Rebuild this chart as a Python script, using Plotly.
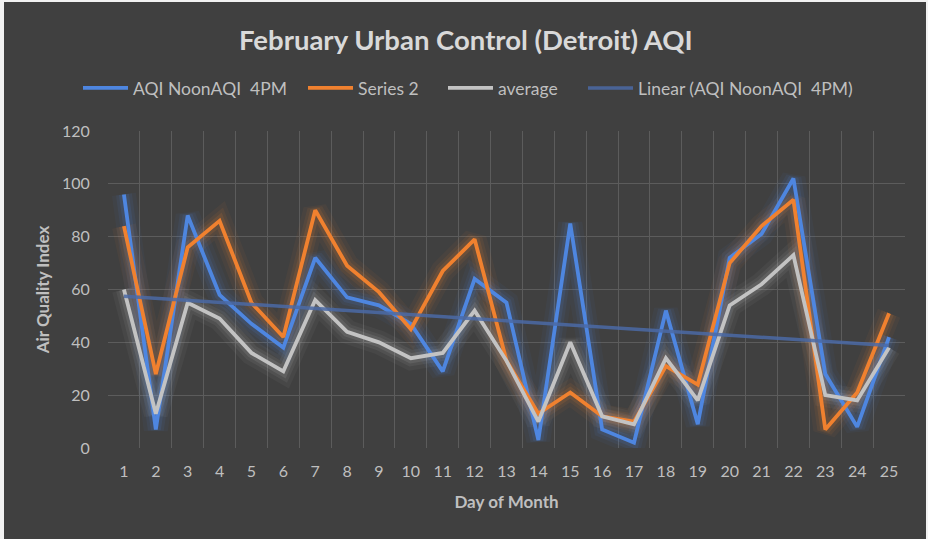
import numpy as np
import plotly.graph_objects as go

days = list(range(1, 26))
aqi_noon_4pm = [96, 7, 88, 58, 47, 38, 72, 57, 54, 47, 29, 64, 55, 3, 85, 7, 2, 52, 9, 72, 81, 102, 28, 8, 42]
series_2 = [84, 28, 76, 86, 55, 42, 90, 69, 59, 45, 67, 79, 33, 13, 21, 12, 10, 31, 24, 70, 84, 94, 7, 21, 51]
average = [60, 13, 55, 49, 36, 29, 56, 44, 40, 34, 36, 52, 33, 10, 40, 12, 9, 34, 18, 54, 62, 73, 20, 18, 38]
y_ticks = [0, 20, 40, 60, 80, 100, 120]

# Linear trendline of first series
coef = np.polyfit(days, aqi_noon_4pm, 1)
trend = list(np.polyval(coef, days))

BLUE = "#4e86e0"
ORANGE = "#f0812f"
GRAY = "#c3c3c3"
TREND = "#4b6aa6"
BG = "#404040"
FONT = "Lato"
TXT = "#bfbfbf"

fig = go.Figure()

# glow layers
for vals, col in [(average, GRAY), (series_2, ORANGE), (aqi_noon_4pm, BLUE)]:
    for w, op in [(24, 0.05), (16, 0.08), (10, 0.12)]:
        fig.add_trace(go.Scatter(x=days, y=vals, mode="lines", line=dict(color=col, width=w),
                                 opacity=op, showlegend=False, hoverinfo="skip"))

fig.add_trace(go.Scatter(x=days, y=aqi_noon_4pm, mode="lines", name="AQI NoonAQI\u00a0 4PM",
                         line=dict(color=BLUE, width=3.8), legend="legend"))
fig.add_trace(go.Scatter(x=days, y=series_2, mode="lines", name="Series 2",
                         line=dict(color=ORANGE, width=3.8), legend="legend2"))
fig.add_trace(go.Scatter(x=days, y=average, mode="lines", name="average",
                         line=dict(color=GRAY, width=3.8), legend="legend3"))
fig.add_trace(go.Scatter(x=days, y=trend, mode="lines", name="Linear (AQI NoonAQI\u00a0 4PM)",
                         line=dict(color=TREND, width=3.5), opacity=0.85, legend="legend4"))

# outer light frame
L, R, T, B = 108, 23, 131, 91
W, H = 928, 539
pw, ph = W - L - R, H - T - B
fig.add_shape(type="rect", xref="paper", yref="paper",
              x0=(4 - L) / pw, x1=(926 - L) / pw, y0=(B - 0) / -ph, y1=1 + (T - 2) / ph,
              fillcolor=BG, line=dict(width=0), layer="below")


def leg(xpx):
    return dict(orientation="h", xref="container", yref="container", x=(xpx - 5) / W, xanchor="left",
                y=1 - 88 / H, yanchor="middle", font=dict(size=17.5, color=TXT, family=FONT),
                bgcolor="rgba(0,0,0,0)", itemwidth=45, borderwidth=0)


fig.update_layout(
    width=W, height=H,
    margin=dict(l=L, r=R, t=T, b=B),
    paper_bgcolor="#f2f2f2",
    plot_bgcolor="rgba(0,0,0,0)",
    font=dict(family=FONT, color=TXT, size=16),
    title=dict(text="<b>February Urban Control (Detroit) AQI</b>", x=0.502, xanchor="center",
               y=1 - 40 / H, yanchor="middle", yref="container",
               font=dict(family=FONT, size=27.5, color="#d9d9d9")),
    legend=leg(83), legend2=leg(308), legend3=leg(448), legend4=leg(588),
    showlegend=True,
    xaxis=dict(range=[0.5, 25.5], tickvals=days, ticktext=[str(d) for d in days],
               showgrid=False, zeroline=False, showline=False,
               ticks="outside", ticklen=9, tickcolor="rgba(0,0,0,0)",
               tickfont=dict(size=16, color=TXT),
               minor=dict(tick0=0.5, dtick=1, showgrid=True, gridcolor="#5c5c5c", gridwidth=1, ticks=""),
               title=dict(text="<b>Day of Month</b>", font=dict(size=17, color=TXT), standoff=16)),
    yaxis=dict(range=[0, 120], tickvals=y_ticks, showgrid=True, gridcolor="#5c5c5c", gridwidth=1,
               zeroline=False, showline=False,
               ticks="outside", ticklen=14, tickcolor="rgba(0,0,0,0)",
               tickfont=dict(size=16, color=TXT),
               title=dict(text="<b>Air Quality Index</b>", font=dict(size=17, color=TXT), standoff=8)),
)

fig.write_html("out.html", config={"displayModeBar": False},
               post_script="document.body.style.margin='0';")
